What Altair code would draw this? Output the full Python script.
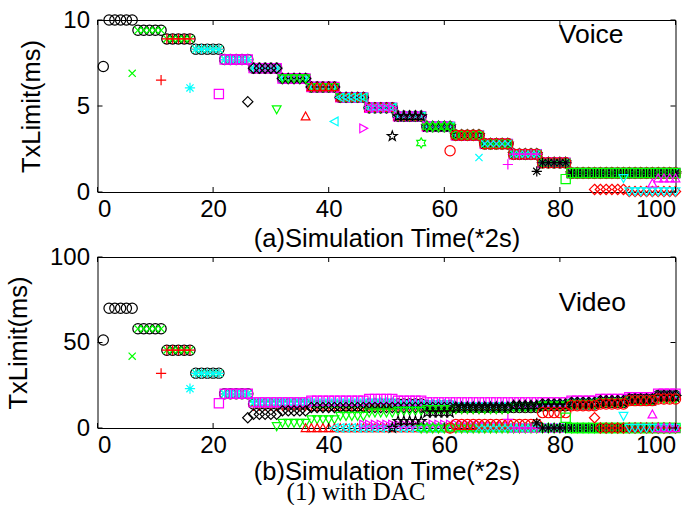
import math
import altair as alt
import pandas as pd

# ---------------- data ----------------
x_ticks = [0, 20, 40, 60, 80, 100]
voice_y_ticks = [0, 5, 10]
video_y_ticks = [0, 50, 100]

flow_ids = [f"f{i:02d}" for i in range(20)]
flow_start = [1, 6, 11, 16, 21, 26, 31, 36, 41, 46, 51, 56, 61, 66, 71, 76, 81, 86, 91, 96]
flow_marker = ["o", "x", "+", "*", "s", "d", "v", "^", "<", ">", "p", "h",
               "o", "x", "+", "*", "s", "d", "v", "^"]
flow_color = ["#000000", "#00ff00", "#ff0000", "#00ffff", "#ff00ff"] * 4

# Voice: first sample of each flow, then the shared staircase (one level per 5-step block)
voice_first = [7.3, 6.9, 6.5, 6.05, 5.7, 5.25, 4.8, 4.4, 4.1, 3.7,
               3.25, 2.85, 2.4, 2.0, 1.6, 1.2, 0.75, 0.15, 0.8, 0.5]
voice_levels = [10, 9.4, 8.9, 8.3, 7.7, 7.2, 6.6, 6.1, 5.5, 4.9,
                4.4, 3.8, 3.3, 2.8, 2.2, 1.7, 1.1, 1.1, 1.1, 1.1]
voice_tail = {17: [0.15, 0.03, 0.03], 18: [0.03, 0.03], 19: [0.8]}

# Video: first sample, shared levels while few flows, then per-flow block levels
video_first = [51.5, 42, 32, 23, 14.5, 6, 1, 0, 0, 2,
               0, 0, 0, 0, 5, 3, 6, 6, 7, 8]
video_shared = [70, 58, 45.5, 32, 20]
video_levels = {
    0: [14, 14, 13, 13, 14, 14, 13, 12, 12, 12, 13, 14, 15, 17, 19],
    1: [14, 14, 14, 14, 14, 13, 12, 12, 12, 13, 13, 14, 15, 16, 18],
    2: [13, 13, 13, 13, 13, 13, 12, 11, 11, 12, 13, 15, 16, 17, 18],
    3: [15, 15, 15, 15, 15, 14, 14, 13, 13, 13, 14, 15, 16, 17, 19],
    4: [15, 15, 16, 16, 17, 16, 15, 15, 15, 15, 15, 16, 17, 18, 20],
    5: [8, 10, 12, 12, 12, 12, 12, 12, 12, 13, 14, 15, 16, 17, 19],
    6: [3, 5, 7, 9, 10, 11, 11, 11, 12, 13, 14, 15, 16, 17],
    7: [0, 0, 0, 0, 0, 0, 0, 0, 0, 0, 0, 0, 0],
    8: [0, 0, 0, 0, 0, 0, 0, 0, 0, 0, 0, 0],
    9: [2, 2, 2, 2, 1, 0, 0, 0, 0, 0, 0],
    10: [4, 9, 12, 12, 13, 13, 14, 15, 16, 18],
    11: [0, 0, 0, 0, 0, 0, 0, 0, 0],
    12: [2, 2, 2, 9, 13, 14, 16, 17],
    13: [0, 0, 0, 0, 0, 0, 0],
    14: [0, 0, 0, 0, 0, 0],
    15: [0, 0, 0, 0, 0],
    16: [0, 0, 0, 0],
    17: [0, 0, 0],
    18: [0, 0],
    19: [0],
}

# ---------------- build tables ----------------
def block_times(b):
    return [t for t in range(5 * b + 2, 5 * b + 7) if t <= 100]

voice_rows, video_rows = [], []
for k in range(20):
    voice_rows.append({"flow": flow_ids[k], "t": flow_start[k], "v": voice_first[k]})
    video_rows.append({"flow": flow_ids[k], "t": flow_start[k], "v": video_first[k]})
    for b in range(k, 20):
        lv = voice_tail[k][b - k] if k in voice_tail else voice_levels[b]
        for t in block_times(b):
            voice_rows.append({"flow": flow_ids[k], "t": t, "v": lv})
        if b < 5:
            lw = video_shared[b]
        else:
            lw = video_levels[k][b - max(k, 5)]
        for t in block_times(b):
            video_rows.append({"flow": flow_ids[k], "t": t, "v": lw})

voice_df = pd.DataFrame(voice_rows)
video_df = pd.DataFrame(video_rows)

# ---------------- marker shapes ----------------
def star_path(n, r_out, r_in):
    pts = []
    for i in range(2 * n):
        r = r_out if i % 2 == 0 else r_in
        a = -math.pi / 2 + i * math.pi / n
        pts.append(f"{r * math.cos(a):.3f},{r * math.sin(a):.3f}")
    return "M" + "L".join(pts) + "Z"

shape_paths = {
    "o": "circle",
    "x": "M-0.7,-0.7L0.7,0.7M-0.7,0.7L0.7,-0.7",
    "+": "M-1,0L1,0M0,-1L0,1",
    "*": "M-1,0L1,0M0,-1L0,1M-0.7,-0.7L0.7,0.7M-0.7,0.7L0.7,-0.7",
    "s": "M-0.9,-0.9L0.9,-0.9L0.9,0.9L-0.9,0.9Z",
    "d": "M0,-1L1,0L0,1L-1,0Z",
    "v": "M-0.85,-0.7L0.85,-0.7L0,0.85Z",
    "^": "M-0.85,0.7L0.85,0.7L0,-0.85Z",
    "<": "M0.7,-0.85L0.7,0.85L-0.85,0Z",
    ">": "M-0.7,-0.85L-0.7,0.85L0.85,0Z",
    "p": star_path(5, 1.0, 0.4),
    "h": star_path(6, 1.0, 0.58),
}
shape_range = [shape_paths[m] for m in flow_marker]

W, H1, H2 = 578, 172, 171
FONT = "Liberation Sans"
caption = "(1) with DAC"


def panel(df, ymax, yticks, xtitle, label, label_x, label_y, H, title_pad, with_caption=False):
    x_enc = alt.X("t:Q", scale=alt.Scale(domain=[0, 100], nice=False),
                  axis=alt.Axis(values=x_ticks, title=xtitle, labelPadding=5,
                                titlePadding=title_pad, format="d"))
    y_enc = alt.Y("v:Q", scale=alt.Scale(domain=[0, ymax], nice=False),
                  axis=alt.Axis(values=yticks, title="TxLimit(ms)", labelPadding=8,
                                titlePadding=18, format="d"))
    pts = alt.Chart(df).mark_point(filled=False, size=105, strokeWidth=1.2, opacity=1).encode(
        x=x_enc,
        y=y_enc,
        shape=alt.Shape("flow:N", scale=alt.Scale(domain=flow_ids, range=shape_range), legend=None),
        color=alt.Color("flow:N", scale=alt.Scale(domain=flow_ids, range=flow_color), legend=None),
    )
    xt = alt.Chart(pd.DataFrame({"t": x_ticks}))
    yt = alt.Chart(pd.DataFrame({"v": yticks}))
    rule = dict(color="black", strokeWidth=1)
    bt = xt.mark_rule(**rule).encode(x=x_enc, y=alt.value(H), y2=alt.value(H - 5))
    tt = xt.mark_rule(**rule).encode(x=x_enc, y=alt.value(0), y2=alt.value(5))
    lt = yt.mark_rule(**rule).encode(y=y_enc, x=alt.value(0), x2=alt.value(5))
    rt = yt.mark_rule(**rule).encode(y=y_enc, x=alt.value(W), x2=alt.value(W - 5))
    txt = alt.Chart(pd.DataFrame({"t": [label_x], "v": [label_y], "s": [label]})).mark_text(
        align="left", baseline="middle", font=FONT, fontSize=26.5, color="black"
    ).encode(x=x_enc, y=y_enc, text="s:N")
    layers = [pts, bt, tt, lt, rt, txt]
    if with_caption:
        cap = alt.Chart(pd.DataFrame({"s": [caption]})).mark_text(
            align="center", baseline="alphabetic", font="Liberation Serif", fontSize=25,
            color="black"
        ).encode(x=alt.value(258.5), y=alt.value(H + 72), text="s:N")
        layers.append(cap)
    return alt.layer(*layers).properties(width=W, height=H)


top = panel(voice_df, 10, voice_y_ticks, "(a)Simulation Time(*2s)", "Voice", 79.8, 9.1, H1, 5)
bottom = panel(video_df, 100, video_y_ticks, "(b)Simulation Time(*2s)", "Video", 79.8, 73, H2, 2,
               with_caption=True)

chart = alt.vconcat(top, bottom, spacing=65, bounds="flush").properties(
    padding={"left": 5.5, "top": 7, "right": 0, "bottom": 0},
    background="white",
).configure_view(stroke="black", strokeWidth=1).configure_axis(
    domain=False, ticks=False, grid=False,
    labelFont=FONT, labelFontSize=24, labelColor="black",
    titleFont=FONT, titleFontSize=25.5, titleFontWeight="normal", titleColor="black",
)

chart.save("out.html", embed_options={"renderer": "svg", "actions": False})
